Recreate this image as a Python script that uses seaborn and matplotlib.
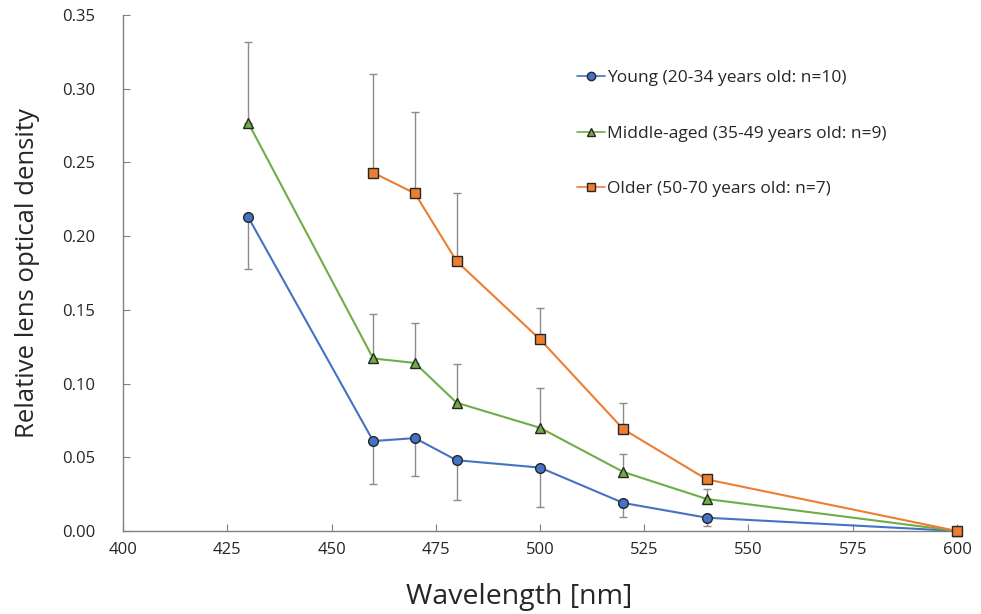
import numpy as np
import pandas as pd
import matplotlib
matplotlib.use("Agg")
import matplotlib.pyplot as plt
import seaborn as sns

# values
wl_young = [430, 460, 470, 480, 500, 520, 540, 600]
od_young = [0.213, 0.061, 0.063, 0.048, 0.043, 0.019, 0.009, 0.0]
err_young_low = [0.035, 0.029, 0.026, 0.027, 0.027, 0.0095, 0.0054, 0.0]

wl_middle = [430, 460, 470, 480, 500, 520, 540, 600]
od_middle = [0.277, 0.117, 0.114, 0.087, 0.070, 0.040, 0.0217, 0.0]
err_middle_up = [0.055, 0.030, 0.027, 0.026, 0.027, 0.012, 0.0068, 0.0]

wl_older = [460, 470, 480, 500, 520, 540, 600]
od_older = [0.243, 0.229, 0.183, 0.130, 0.069, 0.035, 0.0]
err_older_up = [0.067, 0.055, 0.046, 0.021, 0.018, 0.0, 0.0]

labels = ["Young (20-34 years old: n=10)",
          "Middle-aged (35-49 years old: n=9)",
          "Older (50-70 years old: n=7)"]
colors = ["#4472C4", "#70AD47", "#ED7D31"]
markers = ["o", "^", "s"]

df = pd.concat([
    pd.DataFrame({"wl": wl_young, "od": od_young, "group": labels[0]}),
    pd.DataFrame({"wl": wl_middle, "od": od_middle, "group": labels[1]}),
    pd.DataFrame({"wl": wl_older, "od": od_older, "group": labels[2]}),
])

sns.set_style("white")
plt.rcParams['font.family'] = ['Open Sans', 'DejaVu Sans']

fig = plt.figure(figsize=(9.81, 6.14), dpi=100)
ax = fig.add_axes([0.1254, 0.1352, 0.8501, 0.8404])

# one-sided error bars (drawn under the markers)
ax.errorbar(wl_young, od_young, yerr=[err_young_low, np.zeros(len(od_young))],
            fmt='none', ecolor='#8c8c8c', elinewidth=1, capsize=3, capthick=1, zorder=1)
ax.errorbar(wl_middle, od_middle, yerr=[np.zeros(len(od_middle)), err_middle_up],
            fmt='none', ecolor='#8c8c8c', elinewidth=1, capsize=3, capthick=1, zorder=1)
ax.errorbar(wl_older, od_older, yerr=[np.zeros(len(od_older)), err_older_up],
            fmt='none', ecolor='#8c8c8c', elinewidth=1, capsize=3, capthick=1, zorder=1)

sns.lineplot(data=df, x="wl", y="od", hue="group", style="group",
             palette=colors, markers=markers, dashes=False, linewidth=1.5,
             markersize=7, markeredgecolor="#262626", markeredgewidth=1,
             ax=ax, zorder=3, clip_on=False)

ax.set_xlim(400, 600)
ax.set_ylim(0, 0.35)
ax.set_xticks(np.arange(400, 601, 25))
ax.set_yticks(np.arange(0, 0.351, 0.05))
ax.set_yticklabels([f"{v:.2f}" for v in np.arange(0, 0.351, 0.05)])
ax.tick_params(direction='in', length=5, color='#808080', labelsize=12,
               labelcolor='#262626', left=True, bottom=True)
ax.tick_params(axis='x', pad=8)
ax.tick_params(axis='y', pad=20)
for s in ['top', 'right']:
    ax.spines[s].set_visible(False)
for s in ['left', 'bottom']:
    ax.spines[s].set_color('#808080')
    ax.spines[s].set_linewidth(1)

ax.set_xlabel("Wavelength [nm]", fontsize=20.5)
ax.xaxis.set_label_coords(0.475, -0.10)
ax.set_ylabel("Relative lens optical density", fontsize=18.5, labelpad=16)

leg = ax.legend(loc='upper left', bbox_to_anchor=(0.526, 0.923), frameon=False,
                fontsize=12.5, handlelength=1.6, handletextpad=0.1,
                labelspacing=2.25)
for h in leg.legend_handles:
    h.set_markersize(6)
    h.set_linewidth(1.2)

fig.savefig("out.png", dpi=100)
